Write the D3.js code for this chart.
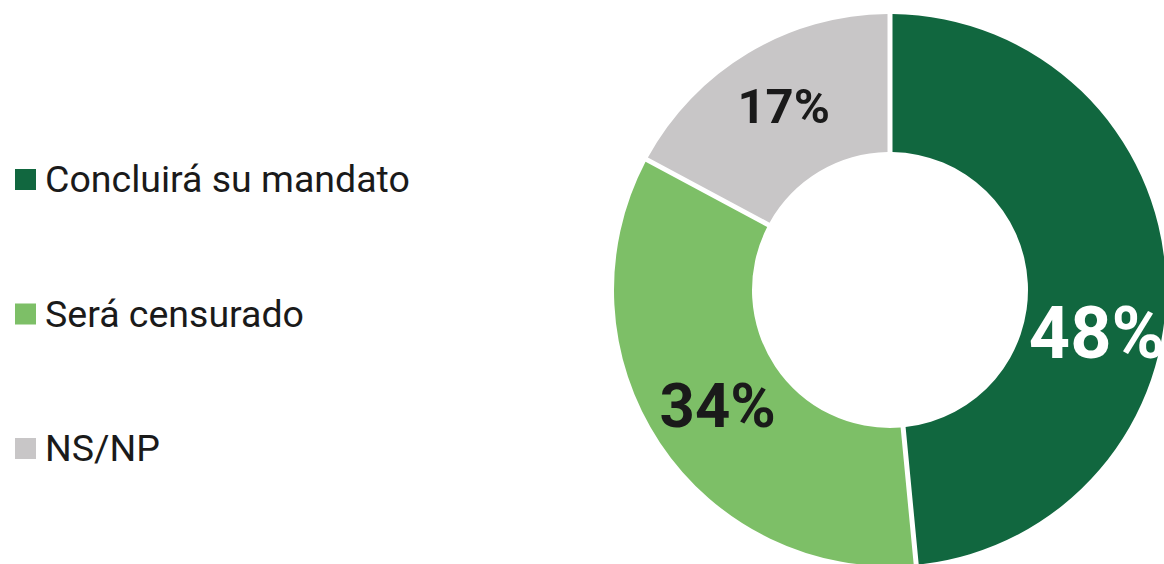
<!DOCTYPE html>
<html>
<head>
<meta charset="UTF-8">
<style>
  body { margin: 0; background: #fff; }
  .legend text { font: 400 37.5px Roboto, sans-serif; fill: #1a1a1a; }
  .label { font-family: Roboto, sans-serif; font-weight: 700; }
</style>
</head>
<body>
<script src="https://d3js.org/d3.v7.min.js"></script>
<svg id="chart" width="1164" height="564"></svg>
<script>
var categories = ["Concluirá su mandato", "Será censurado", "NS/NP"];
var values = [48, 34, 17];
var colors = ["#11673f", "#7dbf67", "#c8c6c7"];
var labelColors = ["#ffffff", "#1a1a1a", "#1a1a1a"];

var svg = d3.select("#chart"),
    cx = 890, cy = 290,
    outerR = 276, innerR = 138;

var data = categories.map(function (c, i) { return { name: c, value: values[i], i: i }; });

var pie = d3.pie().sort(null).value(function (d) { return d.value; });
var arc = d3.arc().innerRadius(innerR).outerRadius(outerR)
    .padAngle(5 / outerR).padRadius(outerR);
var labelArc = d3.arc().innerRadius(innerR).outerRadius(outerR);
var fontSize = d3.scaleLinear().domain([17, 48]).range([49, 72]);

var g = svg.append("g").attr("transform", "translate(" + cx + "," + cy + ")");
var arcs = pie(data);

g.selectAll("path")
    .data(arcs)
    .enter().append("path")
    .attr("d", arc)
    .attr("fill", function (d) { return colors[d.data.i]; });

// label nudges so the text sits where the original puts it
var nudge = [52, 0, -7];
g.selectAll(".label")
    .data(arcs)
    .enter().append("text")
    .attr("class", "label")
    .attr("transform", function (d) {
        var c = labelArc.centroid(d);
        return "translate(" + c[0] + "," + (c[1] + nudge[d.data.i]) + ")";
    })
    .attr("text-anchor", "middle")
    .attr("dy", "0.355em")
    .style("font-size", function (d) { return fontSize(d.data.value) + "px"; })
    .attr("fill", function (d) { return labelColors[d.data.i]; })
    .text(function (d) { return d.data.value + "%"; });

var legend = svg.append("g").attr("class", "legend");
var rowY = d3.scalePoint().domain(categories).range([179.5, 448.5]);
var item = legend.selectAll("g")
    .data(data)
    .enter().append("g")
    .attr("transform", function (d) { return "translate(15," + rowY(d.name) + ")"; });
item.append("rect")
    .attr("x", 0).attr("y", -10.5)
    .attr("width", 21).attr("height", 21)
    .attr("fill", function (d) { return colors[d.i]; });
item.append("text")
    .attr("x", 30).attr("y", 12.5)
    .text(function (d) { return d.name; });
</script>
</body>
</html>
